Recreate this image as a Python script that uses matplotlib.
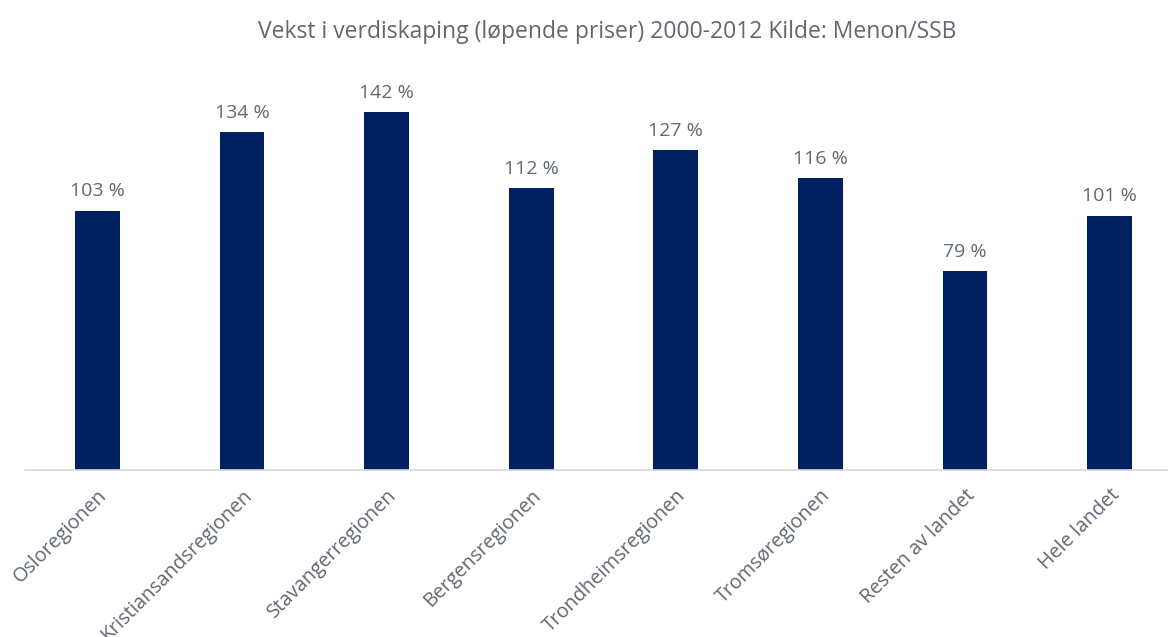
import matplotlib.pyplot as plt

regions = ['Osloregionen', 'Kristiansandsregionen', 'Stavangerregionen', 'Bergensregionen',
           'Trondheimsregionen', 'Tromsøregionen', 'Resten av landet', 'Hele landet']
growth = [103, 134, 142, 112, 127, 116, 79, 101]

plt.rcParams['font.family'] = ['Open Sans', 'DejaVu Sans']
text_color = '#5f6873'

fig = plt.figure(figsize=(11.68, 6.37), dpi=100)
# the plot area runs past the right edge of the picture, as in the reference
ax = fig.add_axes([25 / 1168, 0.262, 1157 / 1168, 0.633])

x = range(len(regions))
ax.bar(x, growth, width=0.31, color='#002060', zorder=2)
for xi, v in zip(x, growth):
    ax.text(xi, v + 4, f'{v} %', ha='center', va='bottom', fontsize=14, color=text_color)

ax.set_xlim(-0.5, len(regions) - 0.5)
ax.set_ylim(0, 160)
ax.set_yticks([])
ax.set_xticks(list(x))
ax.set_xticklabels(regions, rotation=45, ha='right', rotation_mode='anchor',
                   fontsize=14.2, color=text_color)
ax.tick_params(axis='x', length=0, pad=11)
for side in ['top', 'right', 'left']:
    ax.spines[side].set_visible(False)
ax.spines['bottom'].set_color('#d9d9d9')
ax.spines['bottom'].set_linewidth(1.2)

fig.suptitle('Vekst i verdiskaping (løpende priser) 2000-2012 Kilde: Menon/SSB',
             x=0.52, y=0.968, fontsize=16.5, color=text_color)

fig.savefig('out.png', dpi=100)
